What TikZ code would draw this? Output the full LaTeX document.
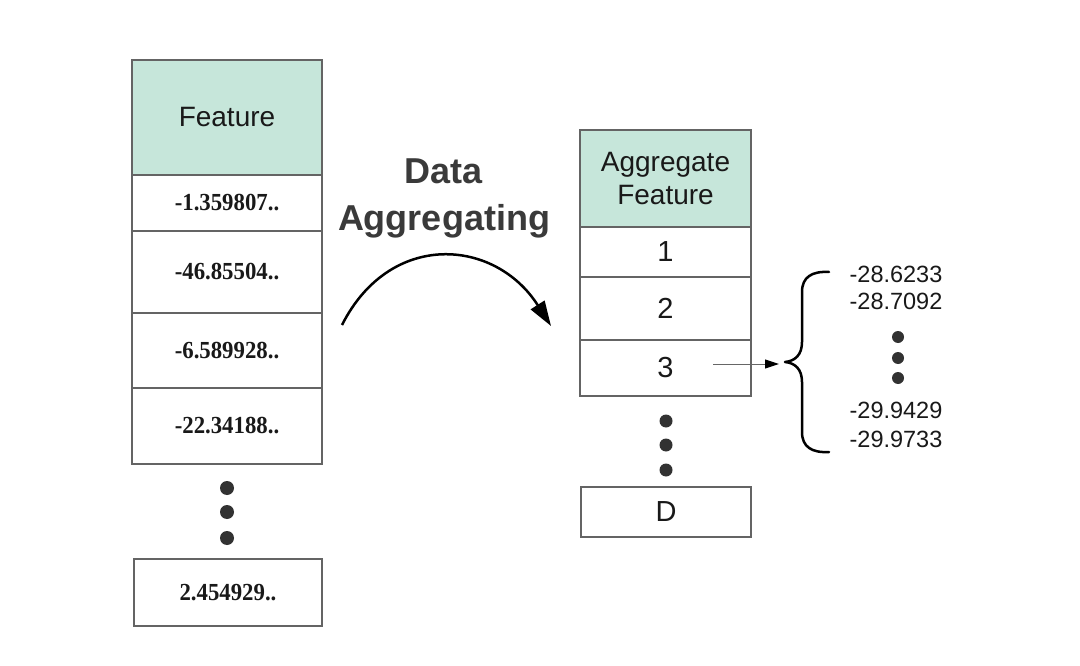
\documentclass[tikz,border=0pt]{standalone}
\usepackage{fontspec}
\setmainfont{Liberation Serif}
\newfontfamily\sansf{Liberation Sans}
\newfontfamily\numfont[FakeStretch=0.93]{Liberation Serif}
\usetikzlibrary{arrows.meta}
\definecolor{hdr}{RGB}{198,230,218}
\definecolor{edgec}{RGB}{100,100,100}
\definecolor{dotc}{RGB}{50,50,50}
\definecolor{ttl}{RGB}{58,58,58}
\begin{document}
\begin{tikzpicture}[x=1pt,y=-1pt,
  cell/.style={draw=edgec, line width=1.3pt, rectangle, inner sep=0pt, fill=white, text=black!90},
  hcell/.style={cell, fill=hdr},
  numf/.style={font=\numfont\bfseries\fontsize{24.5}{28}\selectfont},
  sf/.style={font=\sansf\fontsize{28}{33}\selectfont},
  df/.style={font=\sansf\fontsize{29}{33}\selectfont},
  rnum/.style={font=\sansf\fontsize{23.5}{27}\selectfont, anchor=base, inner sep=0pt, text=black!90},
  ttlf/.style={font=\sansf\bfseries\fontsize{36}{44}\selectfont, anchor=base, inner sep=0pt, text=ttl},
  dotm/.style={circle, fill=dotc, inner sep=0pt, minimum size=#1},
  dotm/.default=14pt
]
\useasboundingbox (0,0) rectangle (1080,666);
\fill[white] (0,0) rectangle (1080,666);

% left column
\node[hcell, minimum width=190pt, minimum height=115pt, sf] (fh) at (227,117.5) {Feature};
\node[cell, minimum width=190pt, minimum height=56pt, numf] (f1) at (227,203) {-1.359807..};
\node[cell, minimum width=190pt, minimum height=82pt, numf] (f2) at (227,272) {-46.85504..};
\node[cell, minimum width=190pt, minimum height=75pt, numf] (f3) at (227,350.5) {-6.589928..};
\node[cell, minimum width=190pt, minimum height=76pt, numf] (f4) at (227,426) {-22.34188..};
\node[dotm] (ld1) at (227,488) {};
\node[dotm] (ld2) at (227,512) {};
\node[dotm] (ld3) at (227,538) {};
\node[cell, minimum width=188pt, minimum height=67pt, numf] (fn) at (228,592.5) {2.454929..};

% title
\node[ttlf] (t1) at (444,184) {Data};
\node[ttlf] (t2) at (444,231) {Aggregating};

% curved arrow
\coordinate (cs) at (342,325);
\coordinate (ce) at (551,326);
\draw[line width=2.5pt, -{Triangle[length=25pt,width=16pt]}] (cs) .. controls (390,230) and (495,238) .. (ce);

% right column
\node[hcell, minimum width=171pt, minimum height=97pt, align=center, font=\sansf\fontsize{28}{33}\selectfont] (ah) at (665.5,178.5) {Aggregate\\Feature};
\node[cell, minimum width=171pt, minimum height=50pt, df] (a1) at (665.5,252) {1};
\node[cell, minimum width=171pt, minimum height=63pt, df] (a2) at (665.5,308.5) {2};
\node[cell, minimum width=171pt, minimum height=56pt, df] (a3) at (665.5,368) {3};
\node[dotm=13pt] (rd1) at (666,421) {};
\node[dotm=13pt] (rd2) at (666,445) {};
\node[dotm=13pt] (rd3) at (666,470) {};
\node[cell, minimum width=170pt, minimum height=50pt, df] (aD) at (666,512) {D};

% small arrow
\coordinate (s3) at (713,364);
\coordinate (b3) at (779,364);
\draw[draw=black!60, line width=1pt, -{Triangle[length=14pt,width=9pt,color=black,fill=black]}] (s3) -- (b3);

% brace
\draw[line width=2.5pt, line cap=round, line join=round]
  (829,272) .. controls (812,271) and (802,277) .. (802,292) -- (802,342)
  .. controls (802,355) and (795,361) .. (785,362)
  .. controls (795,363) and (802,369) .. (802,382) -- (802,432)
  .. controls (802,447) and (812,453) .. (829,452);

% values
\node[rnum] (v1) at (896,282) {-28.6233};
\node[rnum] (v2) at (896,309) {-28.7092};
\node[dotm=12pt] (vd1) at (898,337) {};
\node[dotm=12pt] (vd2) at (898,358) {};
\node[dotm=12pt] (vd3) at (898,378) {};
\node[rnum] (v3) at (896,418) {-29.9429};
\node[rnum] (v4) at (896,447) {-29.9733};
\end{tikzpicture}
\end{document}
